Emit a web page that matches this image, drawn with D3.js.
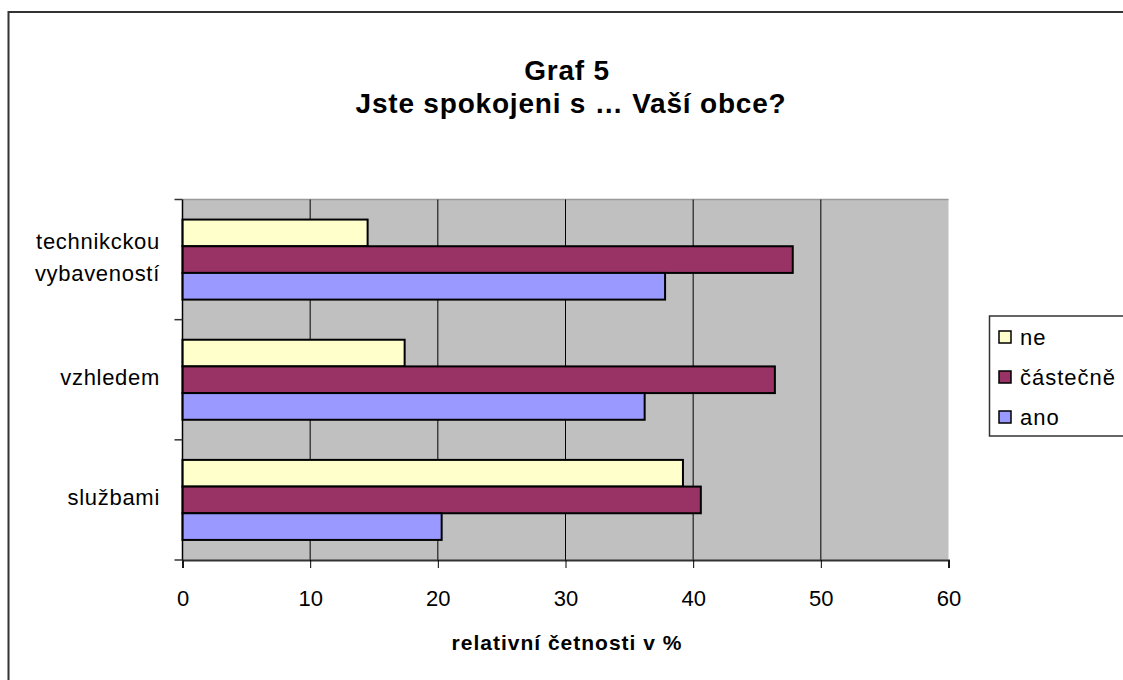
<!DOCTYPE html>
<html>
<head>
    <meta charset="utf-8">
    <title>Graf 5</title>
    <style>
        html, body { margin: 0; padding: 0; background: white; }
        svg { display: block; }
        text { font-family: "Liberation Sans", Arial, sans-serif; fill: black; }
    </style>
</head>
<body>
<script src="https://cdn.jsdelivr.net/npm/d3@7"></script>
<script>
    // data
    var categories = ["technikckou vybaveností", "vzhledem", "službami"];
    var series = ["ne", "částečně", "ano"];
    var ne = [14.5, 17.4, 39.2];
    var castecne = [47.8, 46.4, 40.6];
    var ano = [37.8, 36.2, 20.3];
    var xTicks = [0, 10, 20, 30, 40, 50, 60];
    var colors = ["#FFFFCC", "#993366", "#9999FF"];

    var width = 1123, height = 680;
    // plot area edges
    var pLeft = 182.5, pRight = 948.5, pTop = 199.5, pBottom = 560;

    var svg = d3.select("body").append("svg")
        .attr("width", width)
        .attr("height", height);

    // outer chart frame
    svg.append("rect")
        .attr("x", 8.5).attr("y", 12)
        .attr("width", 1300).attr("height", 900)
        .attr("fill", "white")
        .attr("stroke", "#333").attr("stroke-width", 2);

    var x = d3.scaleLinear().domain([0, 60]).range([pLeft, pRight]);
    var y = d3.scaleBand().domain(categories).range([pTop, pBottom])
        .paddingInner(0.334).paddingOuter(0.167);
    var yInner = d3.scaleBand().domain(series).range([0, y.bandwidth()]);

    // plot area
    svg.append("rect")
        .attr("x", pLeft).attr("y", pTop)
        .attr("width", pRight - pLeft).attr("height", pBottom - pTop)
        .attr("fill", "#C0C0C0");
    svg.append("line")
        .attr("x1", pLeft).attr("x2", pRight).attr("y1", pTop).attr("y2", pTop)
        .attr("stroke", "#999").attr("stroke-width", 1.5);

    // gridlines
    svg.selectAll(".grid").data(xTicks.slice(1, -1)).enter().append("line")
        .attr("x1", function(d) { return x(d); })
        .attr("x2", function(d) { return x(d); })
        .attr("y1", pTop).attr("y2", pBottom)
        .attr("stroke", "black").attr("stroke-width", 1);

    // bars
    var rows = categories.map(function(c, i) {
        return {cat: c, values: [ne[i], castecne[i], ano[i]]};
    });
    var groups = svg.selectAll(".grp").data(rows).enter().append("g")
        .attr("transform", function(d) { return "translate(0," + y(d.cat) + ")"; });
    groups.selectAll("rect").data(function(d) {
            return d.values.map(function(v, j) { return {s: series[j], v: v, j: j}; });
        }).enter().append("rect")
        .attr("x", x(0))
        .attr("y", function(d) { return yInner(d.s); })
        .attr("width", function(d) { return x(d.v) - x(0); })
        .attr("height", yInner.bandwidth())
        .attr("fill", function(d) { return colors[d.j]; })
        .attr("stroke", "black").attr("stroke-width", 2);

    // x axis
    var xAxis = d3.axisBottom(x).tickValues(xTicks).tickSize(8).tickPadding(22);
    var gx = svg.append("g").attr("transform", "translate(0," + pBottom + ")").call(xAxis);
    gx.select(".domain").attr("stroke", "#333").attr("stroke-width", 2);
    gx.selectAll(".tick line").attr("stroke", "black");
    gx.selectAll("text").style("font-size", "22px")
        .style("font-family", "'Liberation Sans', Arial, sans-serif").attr("fill", "black");

    // y axis: ticks on band edges
    var edges = categories.map(function(c) { return y(c) - y.step() * y.paddingInner() / 2; });
    edges.push(pBottom);
    svg.append("line")
        .attr("x1", pLeft).attr("x2", pLeft).attr("y1", pTop).attr("y2", pBottom)
        .attr("stroke", "black").attr("stroke-width", 1.5);
    svg.selectAll(".ytick").data(edges).enter().append("line")
        .attr("x1", pLeft - 8).attr("x2", pLeft)
        .attr("y1", function(d) { return d; }).attr("y2", function(d) { return d; })
        .attr("stroke", "#333").attr("stroke-width", 1.5);

    var catLines = [["technikckou", "vybaveností"], ["vzhledem"], ["službami"]];
    svg.selectAll(".ylab").data(categories).enter().append("text")
        .attr("text-anchor", "end")
        .style("font-size", "22px")
        .style("letter-spacing", "0.7px")
        .each(function(d, i) {
            var lines = catLines[i];
            var cy = y(d) + y.bandwidth() / 2;
            var t = d3.select(this);
            lines.forEach(function(l, k) {
                t.append("tspan")
                    .attr("x", 160)
                    .attr("y", cy + 5 + (k - (lines.length - 1) / 2) * 32)
                    .text(l);
            });
        });

    // titles
    svg.append("text").attr("x", 567).attr("y", 80).attr("text-anchor", "middle")
        .style("font-size", "28px").style("font-weight", "bold").style("letter-spacing", "0.8px")
        .text("Graf 5");
    svg.append("text").attr("x", 571).attr("y", 113).attr("text-anchor", "middle")
        .style("font-size", "28px").style("font-weight", "bold").style("letter-spacing", "0.8px")
        .text("Jste spokojeni s … Vaší obce?");
    svg.append("text").attr("x", 567).attr("y", 650).attr("text-anchor", "middle")
        .style("font-size", "21px").style("font-weight", "bold").style("letter-spacing", "1px")
        .text("relativní četnosti v %");

    // legend
    var lg = svg.append("g");
    lg.append("rect")
        .attr("x", 989.5).attr("y", 316)
        .attr("width", 200).attr("height", 120)
        .attr("fill", "white").attr("stroke", "#333").attr("stroke-width", 1.5);
    var items = lg.selectAll(".li").data(series).enter().append("g")
        .attr("transform", function(d, i) { return "translate(999," + (337 + i * 40) + ")"; });
    items.append("rect")
        .attr("x", 0).attr("y", -6).attr("width", 12).attr("height", 12)
        .attr("fill", function(d, i) { return colors[i]; })
        .attr("stroke", "black").attr("stroke-width", 1.5);
    items.append("text")
        .attr("x", 21).attr("y", 8)
        .style("font-size", "22px").style("letter-spacing", "1px")
        .text(function(d) { return d; });
</script>
</body>
</html>
